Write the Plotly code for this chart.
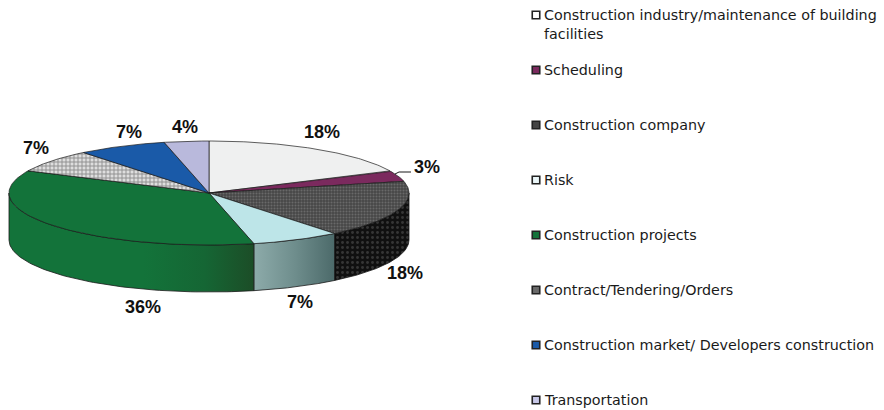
import numpy as np
import plotly.graph_objects as go

categories = ["Construction industry/maintenance of building<br>facilities", "Scheduling",
              "Construction company", "Risk", "Construction projects",
              "Contract/Tendering/Orders", "Construction market/ Developers construction", "Transportation"]
shares = [18, 3.4, 17.8, 7.2, 35.6, 7.2, 7.2, 3.6]

CX, CY, RX, RY, DEPTH = 209, 193, 200, 52, 47
top_colors = ["#EFF0F0", "#7B2A5E", "#4E4E4E", "#BDE5E8", "#13733A", "#E4E4E4", "#1A5AA8", "#B9B9DC"]
line_col = "#1a1a1a"

def pts(a0, a1, dy=0.0, n=80):
    t = np.radians(np.linspace(a0, a1, n))
    return CX + RX * np.sin(t), CY - RY * np.cos(t) + dy

edges = np.concatenate([[0], np.cumsum(shares)]) * 3.6
fig = go.Figure()

side_styles = {
    2: dict(fillcolor="#101010", fillpattern=dict(shape=".", fgcolor="#5c5c5c", bgcolor="#101010", size=5, solidity=0.25)),
    3: dict(fillgradient=dict(type="horizontal", colorscale=[[0, "#8DABAA"], [0.5, "#6F8E8D"], [1, "#4C6A6A"]])),
    4: dict(fillgradient=dict(type="horizontal", colorscale=[[0, "#13733A"], [0.55, "#13733A"], [0.8, "#156634"], [1, "#1C4D27"]])),
}
for i, st in side_styles.items():
    a0, a1 = max(edges[i], 90), min(edges[i + 1], 270)
    x0, y0 = pts(a0, a1)
    x1, y1 = pts(a0, a1, DEPTH)
    fig.add_trace(go.Scatter(x=np.r_[x0, x1[::-1], x0[0]], y=np.r_[y0, y1[::-1], y0[0]],
                             mode="lines", fill="toself", line=dict(color=line_col, width=0.8),
                             hoverinfo="skip", showlegend=False, **st))

top_patterns = {
    2: dict(shape=".", fgcolor="#8c8c8c", bgcolor="#474747", size=3, solidity=0.35),
    5: dict(shape="+", fgcolor="#3a3a3a", bgcolor="#DEDEDE", size=4, solidity=0.4),
}
for i in range(len(shares)):
    x, y = pts(edges[i], edges[i + 1])
    kw = dict(fillcolor=top_colors[i])
    if i in top_patterns:
        kw["fillpattern"] = top_patterns[i]
    fig.add_trace(go.Scatter(x=np.r_[CX, x, CX], y=np.r_[CY, y, CY], mode="lines", fill="toself",
                             line=dict(color=line_col, width=0.7), hoverinfo="skip", showlegend=False, **kw))

mid = (edges[1] + edges[2]) / 2
lx, ly = pts(mid, mid, 0, 1)
fig.add_trace(go.Scatter(x=[lx[0] - 3, lx[0] + 1, 411], y=[ly[0] - 2, 172, 172], mode="lines",
                         line=dict(color=line_col, width=1), hoverinfo="skip", showlegend=False))

label_xy = [(322, 132), (427, 167), (405, 273), (300, 302), (143, 307), (36, 148), (129, 132), (185, 127)]
for v, (lxx, lyy) in zip(shares, label_xy):
    fig.add_annotation(x=lxx, y=lyy, text=f"<b>{v:.0f}%</b>", showarrow=False,
                       font=dict(family="Liberation Sans", size=18, color="#111"))

legend_x, text_x = 536, 543
legend_y = [15, 70, 125, 180, 235, 290, 345, 400]
swatches = ["#FFFFFF", "#7B2A5E", "#444444", "#EAF6F8", "#13733A", "#6a6a6a", "#1A5AA8", "#C8C8E8"]
fig.add_trace(go.Scatter(x=[legend_x] * 8, y=legend_y, mode="markers", hoverinfo="skip", showlegend=False,
                         marker=dict(symbol="square", size=7.5, color=swatches, line=dict(color="#222", width=1.6))))
for name, yy in zip(categories, legend_y):
    fig.add_annotation(x=text_x - 1, y=yy - 10, text=name, showarrow=False, xanchor="left", yanchor="top",
                       align="left", font=dict(family="DejaVu Sans", size=14.3, color="#1a1a1a"))

fig.update_layout(width=884, height=410, margin=dict(l=0, r=0, t=0, b=0),
                  paper_bgcolor="white", plot_bgcolor="white", showlegend=False,
                  xaxis=dict(range=[0, 884], visible=False, fixedrange=True),
                  yaxis=dict(range=[410, 0], visible=False, fixedrange=True))
fig.write_html("out.html", config=dict(displayModeBar=False),
               post_script="document.body.style.margin='0';document.body.style.overflow='hidden';")
